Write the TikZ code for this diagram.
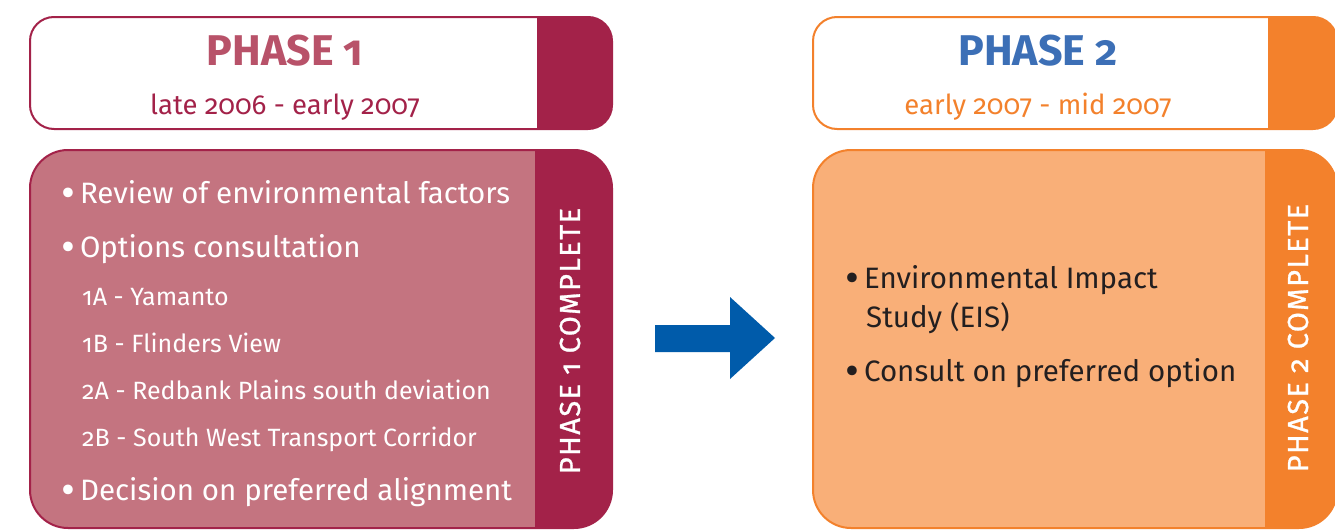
\documentclass[tikz,border=0pt]{standalone}
\usepackage{fontspec}
\setmainfont{Fira Sans}[Numbers=OldStyle]
\newfontfamily\medfont{Fira Sans}[Numbers=OldStyle, FakeBold=0.9]
\definecolor{pdark}{HTML}{A32249}
\definecolor{pfill}{HTML}{C47480}
\definecolor{ptitle}{HTML}{B85269}
\definecolor{orange}{HTML}{F3812C}
\definecolor{ofill}{HTML}{F9AF78}
\definecolor{btitle}{HTML}{3C6FB6}
\definecolor{arrowblue}{HTML}{005BAA}
\definecolor{textdark}{HTML}{231F20}
\newcommand\bul{\raisebox{-0.14em}{\scalebox{1.45}{•}}\hspace{5pt}}
\tikzset{
  hdrbox/.style n args={2}{draw=#1, fill=white, line width=2, rounded corners=24,
    minimum height=112, inner sep=0,
    path picture={\fill[#1, sharp corners] ([xshift=-#2]path picture bounding box.north east) rectangle (path picture bounding box.south east);}},
  bodybox/.style n args={3}{draw=#1, fill=#2, line width=2, rounded corners=38,
    minimum height=378, inner sep=0,
    path picture={\fill[#1, sharp corners] ([xshift=-#3]path picture bounding box.north east) rectangle (path picture bounding box.south east);}},
  titletext/.style={anchor=base, inner sep=0, font=\bfseries\fontsize{43}{50}\selectfont},
  datetext/.style={anchor=base, inner sep=0, font=\fontsize{27.5}{30}\selectfont},
  itemtext/.style={anchor=base west, inner sep=0, font=\fontsize{29.5}{34}\selectfont},
  subtext/.style={anchor=base west, inner sep=0, font=\fontsize{25}{30}\selectfont},
  verttext/.style={rotate=90, inner sep=0, text=white, font=\medfont\fontsize{29}{34}\selectfont\addfontfeatures{LetterSpace=5}},
}
\begin{document}
\begin{tikzpicture}[x=1pt,y=1pt]
\useasboundingbox (0,0) rectangle (1335,-530);
% Phase 1
\node[hdrbox={pdark}{75}, minimum width=582] (h1) at (321,-73) {};
\node[bodybox={pdark}{pfill}{77}, minimum width=582] (b1) at (321,-339) {};
\node[titletext, text=ptitle] (t1) at (285,-65) {PHASE 1};
\node[datetext, text=pdark] (d1) at (285,-114) {late 2006 - early 2007};
\node[itemtext, text=white] (i1) at (61,-203) {\bul Review of environmental factors};
\node[itemtext, text=white] (i2) at (61,-257) {\bul Options consultation};
\node[subtext, text=white] (s1) at (82,-305) {1A - Yamanto};
\node[subtext, text=white] (s2) at (82,-352) {1B - Flinders View};
\node[subtext, text=white] (s3) at (82,-399) {2A - Redbank Plains south deviation};
\node[subtext, text=white] (s4) at (82,-446) {2B - South West Transport Corridor};
\node[itemtext, text=white] (i3) at (61,-500) {\bul Decision on preferred alignment};
\node[verttext] (v1) at (570,-341) {PHASE 1 COMPLETE};
% arrow
\fill[arrowblue] (655,-325) -- (730,-325) -- (730,-297) -- (775,-338) -- (730,-379) -- (730,-352) -- (655,-352) -- cycle;
% Phase 2
\node[hdrbox={orange}{69}, minimum width=524] (h2) at (1075,-73) {};
\node[bodybox={orange}{ofill}{72}, minimum width=524] (b2) at (1075,-339) {};
\node[titletext, text=btitle] (t2) at (1038,-65) {PHASE 2};
\node[datetext, text=orange] (d2) at (1038,-114) {early 2007 - mid 2007};
\node[itemtext, text=textdark] (j1) at (845,-288) {\bul Environmental Impact};
\node[itemtext, text=textdark] (j2) at (866,-327) {Study (EIS)};
\node[itemtext, text=textdark] (j3) at (845,-381) {\bul Consult on preferred option};
\node[verttext] (v2) at (1298,-338) {PHASE 2 COMPLETE};
\end{tikzpicture}
\end{document}
